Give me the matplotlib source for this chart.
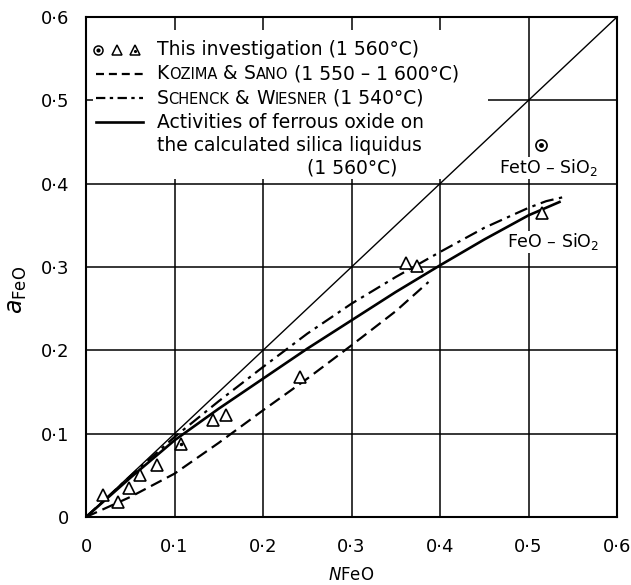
import matplotlib
matplotlib.use("Agg")
import matplotlib.pyplot as plt
from matplotlib.patches import Rectangle
from matplotlib.offsetbox import TextArea, HPacker, AnchoredOffsetbox

plt.rcParams['font.family'] = ['DejaVu Sans']

# --- data ---
# this investigation, open triangles
tri_x = [0.019, 0.036, 0.049, 0.061, 0.080, 0.143, 0.158, 0.242, 0.362, 0.374, 0.515]
tri_y = [0.026, 0.018, 0.035, 0.050, 0.062, 0.117, 0.123, 0.168, 0.305, 0.301, 0.365]
# this investigation, dotted triangle
dtri_x = [0.107]
dtri_y = [0.088]
# this investigation, FetO-SiO2 (circle with dot)
circ_x = [0.514]
circ_y = [0.447]

# Kozima & Sano (1550-1600 C)
koz_x = [0, 0.05, 0.1, 0.15, 0.2, 0.25, 0.3, 0.35, 0.387]
koz_y = [0, 0.024, 0.052, 0.089, 0.128, 0.166, 0.206, 0.247, 0.282]

# Schenck & Wiesner (1540 C)
sch_x = [0, 0.05, 0.1, 0.15, 0.2, 0.25, 0.3, 0.35, 0.4, 0.45, 0.5, 0.52, 0.54]
sch_y = [0, 0.049, 0.096, 0.139, 0.180, 0.220, 0.256, 0.288, 0.318, 0.347, 0.371, 0.379, 0.384]

# activities on calculated silica liquidus (1560 C)
liq_x = [0, 0.05, 0.1, 0.15, 0.2, 0.25, 0.3, 0.35, 0.4, 0.45, 0.5, 0.535]
liq_y = [0, 0.047, 0.092, 0.130, 0.166, 0.202, 0.236, 0.270, 0.302, 0.333, 0.362, 0.378]

ideal = [0, 0.6]

ticks = [0, 0.1, 0.2, 0.3, 0.4, 0.5, 0.6]
tick_labels = ['0', '0·1', '0·2', '0·3', '0·4', '0·5', '0·6']

fig = plt.figure(figsize=(6.31, 5.85), dpi=100)
ax = fig.add_axes([86/631, 68/585, 531/631, 500/585])

ax.set_xlim(0, 0.6)
ax.set_ylim(0, 0.6)
ax.set_xticks(ticks)
ax.set_yticks(ticks)
ax.set_xticklabels(tick_labels, fontsize=13)
ax.set_yticklabels(tick_labels, fontsize=13)
ax.tick_params(axis='both', length=0)
ax.tick_params(axis='x', pad=15)
ax.tick_params(axis='y', pad=12)
ax.set_axisbelow(True)
ax.grid(True, color='black', linewidth=1.1)
for s in ax.spines.values():
    s.set_linewidth(1.5)

# blank area behind the legend text
ax.add_patch(Rectangle((0.008, 0.405), 0.446, 0.18, facecolor='white',
                       edgecolor='none', zorder=1))

ax.plot(ideal, ideal, color='black', linewidth=1.0, zorder=2)
ax.plot(koz_x, koz_y, color='black', linewidth=1.6, dashes=(5.4, 2.7), zorder=3)
ax.plot(sch_x, sch_y, color='black', linewidth=1.6, dashes=(6, 2.5, 1.5, 2.5), zorder=3)
ax.plot(liq_x, liq_y, color='black', linewidth=1.9, zorder=3)

ax.plot(tri_x, tri_y, linestyle='none', marker='^', markersize=8,
        markerfacecolor='white', markeredgecolor='black', markeredgewidth=1.2, zorder=4)
ax.plot(dtri_x, dtri_y, linestyle='none', marker='^', markersize=8,
        markerfacecolor='white', markeredgecolor='black', markeredgewidth=1.2, zorder=4)
ax.plot(dtri_x, dtri_y, linestyle='none', marker='.', markersize=3, color='black', zorder=5)
ax.plot(circ_x, circ_y, linestyle='none', marker='o', markersize=8,
        markerfacecolor='white', markeredgecolor='black', markeredgewidth=1.2, zorder=4)
ax.plot(circ_x, circ_y, linestyle='none', marker='.', markersize=5, color='black', zorder=5)

ax.text(0.523, 0.419, 'FetO – SiO$_2$', fontsize=12.5, ha='center', va='center',
        bbox=dict(facecolor='white', edgecolor='none', pad=0.5), zorder=4)
ax.text(0.528, 0.330, 'FeO – SiO$_2$', fontsize=12.5, ha='center', va='center',
        bbox=dict(facecolor='white', edgecolor='none', pad=0.5), zorder=4)

# --- legend drawn by hand ---
fs = 13.5
sc = 10.5
tx = 0.133
rows = [0.935, 0.887, 0.838, 0.790, 0.743, 0.698]
T = ax.transAxes

ax.plot([0.022], [rows[0]], transform=T, marker='o', markersize=6.5, mfc='white',
        mec='black', mew=1.1, linestyle='none', zorder=6)
ax.plot([0.022], [rows[0]], transform=T, marker='.', markersize=4, color='black',
        linestyle='none', zorder=7)
ax.plot([0.058], [rows[0]], transform=T, marker='^', markersize=6.5, mfc='white',
        mec='black', mew=1.1, linestyle='none', zorder=6)
ax.plot([0.092], [rows[0]], transform=T, marker='^', markersize=6.5, mfc='white',
        mec='black', mew=1.1, linestyle='none', zorder=6)
ax.plot([0.092], [rows[0] - 0.002], transform=T, marker='.', markersize=2.5,
        color='black', linestyle='none', zorder=7)
ax.text(tx, rows[0], 'This investigation (1 560°C)', transform=T, fontsize=fs,
        va='center', ha='left', zorder=6)

ax.plot([0.018, 0.107], [rows[1], rows[1]], transform=T, color='black',
        linewidth=1.6, dashes=(3.6, 2.2), zorder=6)
ax.plot([0.018, 0.107], [rows[2], rows[2]], transform=T, color='black',
        linewidth=1.6, dashes=(4.2, 2.0, 1.5, 2.0), zorder=6)
ax.plot([0.018, 0.107], [rows[3], rows[3]], transform=T, color='black',
        linewidth=1.9, zorder=6)


def small_caps_row(parts, y):
    areas = []
    for txt, big in parts:
        areas.append(TextArea(txt, textprops=dict(fontsize=fs if big else sc)))
    box = HPacker(children=areas, align='baseline', pad=0, sep=0)
    anchored = AnchoredOffsetbox(loc='center left', child=box, pad=0, borderpad=0,
                                 frameon=False, bbox_to_anchor=(tx, y),
                                 bbox_transform=T)
    anchored.set_zorder(6)
    ax.add_artist(anchored)


small_caps_row([('K', True), ('OZIMA', False), (' & ', True), ('S', True),
                ('ANO', False), (' (1 550 – 1 600°C)', True)], rows[1])
small_caps_row([('S', True), ('CHENCK', False), (' & ', True), ('W', True),
                ('IESNER', False), (' (1 540°C)', True)], rows[2])

ax.text(tx, rows[3], 'Activities of ferrous oxide on', transform=T, fontsize=fs,
        va='center', ha='left', zorder=6)
ax.text(tx, rows[4], 'the calculated silica liquidus', transform=T, fontsize=fs,
        va='center', ha='left', zorder=6)
ax.text(0.417, rows[5], '(1 560°C)', transform=T, fontsize=fs,
        va='center', ha='left', zorder=6)

ax.set_xlabel('$N$FeO', fontsize=12)
ax.xaxis.set_label_coords(0.5, -0.116)
ax.xaxis.label.set_va('center')
ax.set_ylabel(r'$a_{\mathrm{FeO}}$', fontsize=17)
ax.yaxis.set_label_coords(-0.13, 0.454)
ax.yaxis.label.set_va('center')

fig.savefig('out.png', dpi=100)
